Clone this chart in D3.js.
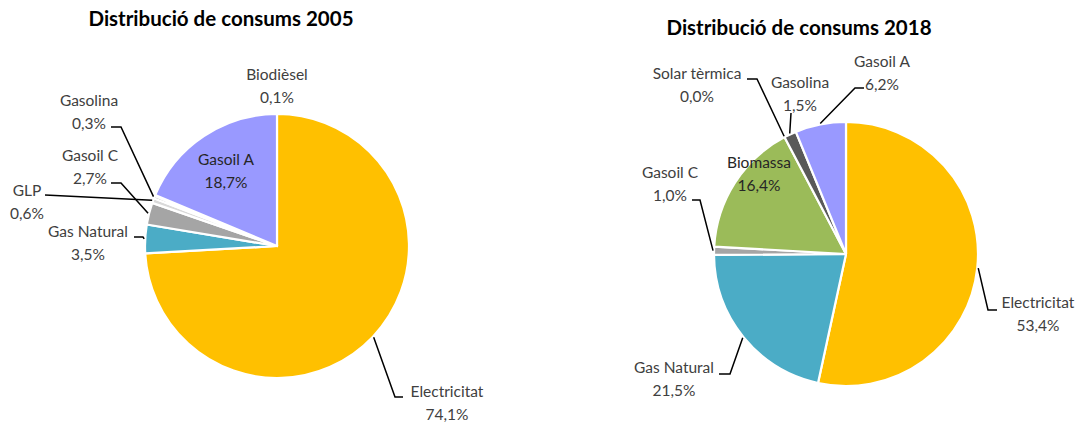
<!DOCTYPE html>
<html>
<head>
<meta charset="utf-8">
<script src="https://cdn.jsdelivr.net/npm/d3@7"></script>
<style>
  body { margin: 0; background: #fff; }
  text { font-family: Lato, "Noto Sans", sans-serif; }
</style>
</head>
<body>
<div id="chart"></div>
<script>
// Data
const categories2005 = ["Electricitat", "Gas Natural", "Gasoil C", "GLP", "Gasolina", "Biodièsel", "Gasoil A"];
const values2005 = [74.1, 3.5, 2.7, 0.6, 0.3, 0.1, 18.7];
const categories2018 = ["Electricitat", "Gas Natural", "Gasoil C", "Biomassa", "Solar tèrmica", "Gasolina", "Gasoil A"];
const values2018 = [53.4, 21.5, 1.0, 16.4, 0.0, 1.5, 6.2];
const titles = ["Distribució de consums 2005", "Distribució de consums 2018"];

const colors = {
    "Electricitat": "#FFC000",
    "Gas Natural": "#4BACC6",
    "Gasoil C": "#A5A5A5",
    "GLP": "#D9D9D9",
    "Gasolina": "#595959",
    "Biodièsel": "#7F7F7F",
    "Gasoil A": "#9999FF",
    "Biomassa": "#9BBB59",
    "Solar tèrmica": "#C0504D"
};

// Label placement, relative to each pie centre (text centre + leader line bends)
const layout2005 = {
    "Electricitat": { text: [170, 146], line: [[118, 151], [126, 151]] },
    "Gas Natural": { text: [-189, -14], line: [[-134, -9], [-143, -9]] },
    "Gasoil C": { text: [-187, -90], line: [[-156, -63], [-166, -63]] },
    "GLP": { text: [-250, -55], line: [[-232, -51]] },
    "Gasolina": { text: [-188, -145], line: [[-156, -119], [-166, -119]] },
    "Biodièsel": { text: [0, -171], line: null },
    "Gasoil A": { text: [-51, -86], line: null, inside: true }
};
const layout2018 = {
    "Electricitat": { text: [192, 49], line: [[142, 56], [151, 56]] },
    "Gas Natural": { text: [-172, 114], line: [[-116, 120], [-127, 120]] },
    "Gasoil C": { text: [-176, -81], line: [[-146, -54], [-154, -54]] },
    "Biomassa": { text: [-87, -91], line: null, inside: true },
    "Solar tèrmica": { text: [-149, -180], line: [[-89, -175], [-99, -175]], edge: true },
    "Gasolina": { text: [-46, -171], line: [[-55, -141]] },
    "Gasoil A": { text: [36, -192], line: [[9, -166], [18, -166]] }
};

const width = 1079, height = 423, radius = 132;
const fmt = v => d3.format(".1f")(v).replace(".", ",") + "%";

const svg = d3.select("#chart").append("svg").attr("width", width).attr("height", height);

function drawPie(cx, cy, titleX, titleY, title, cats, vals, layout) {
    const data = cats.map((c, i) => ({ name: c, value: vals[i] }));
    const pie = d3.pie().sort(null).value(d => d.value);
    const arcs = pie(data);
    const arc = d3.arc().innerRadius(0).outerRadius(radius);

    svg.append("text")
        .attr("x", titleX).attr("y", titleY)
        .attr("text-anchor", "middle")
        .attr("font-size", 20.5).attr("font-weight", "bold")
        .attr("fill", "#000")
        .text(title);

    const g = svg.append("g").attr("transform", `translate(${cx},${cy})`);

    g.selectAll("path.slice")
        .data(arcs.filter(d => d.value > 0))
        .enter().append("path")
        .attr("class", "slice")
        .attr("d", arc)
        .attr("fill", d => colors[d.data.name])
        .attr("stroke", "#fff")
        .attr("stroke-width", 2.2)
        .attr("stroke-linejoin", "round");

    arcs.forEach(d => {
        const lay = layout[d.data.name];
        if (!lay) return;
        if (lay.line) {
            const a = lay.edge ? d.startAngle : (d.startAngle + d.endAngle) / 2;
            const start = [Math.sin(a) * (radius + 1), -Math.cos(a) * (radius + 1)];
            g.append("path")
                .attr("d", d3.line()([start, ...lay.line]))
                .attr("fill", "none")
                .attr("stroke", "#000")
                .attr("stroke-width", 1.5);
        }
        const t = g.append("text")
            .attr("text-anchor", "middle")
            .attr("font-size", 15.5)
            .attr("fill", lay.inside ? "#262626" : "#404040");
        t.append("tspan").attr("x", lay.text[0]).attr("y", lay.text[1] + 5).text(d.data.name);
        t.append("tspan").attr("x", lay.text[0]).attr("y", lay.text[1] + 28).text(fmt(d.data.value));
    });
}

drawPie(277, 246, 221, 26, titles[0], categories2005, values2005, layout2005);
drawPie(846, 254, 799, 35, titles[1], categories2018, values2018, layout2018);
</script>
</body>
</html>
